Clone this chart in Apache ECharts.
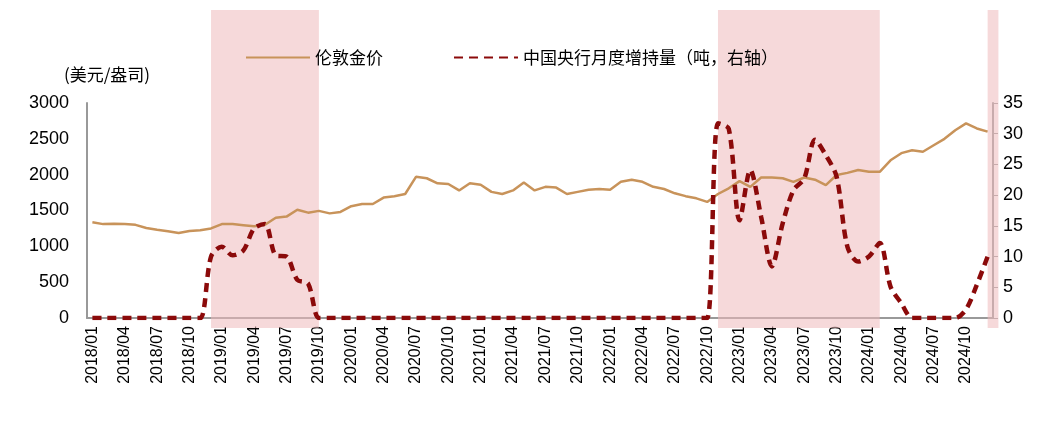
<!DOCTYPE html><html><head><meta charset="utf-8"><script src="https://cdn.jsdelivr.net/npm/echarts@6/dist/echarts.min.js"></script>
<style>body{margin:0}#c{width:1048px;height:435px}</style></head><body><div id="c"></div><script>
const months=[];for(let y=2018;y<=2024;y++)for(let m=1;m<=12;m++)months.push(y+'/'+String(m).padStart(2,'0'));
const gold=[1335,1310,1315,1310,1300,1255,1230,1210,1185,1215,1225,1250,1310,1310,1295,1280,1300,1400,1415,1510,1470,1495,1460,1480,1560,1590,1590,1680,1700,1730,1970,1950,1880,1870,1780,1880,1860,1760,1730,1780,1890,1780,1830,1820,1730,1760,1790,1800,1790,1900,1930,1900,1830,1800,1740,1700,1670,1620,1730,1810,1910,1830,1960,1960,1950,1900,1960,1930,1855,1995,2025,2065,2040,2040,2200,2300,2340,2320,2410,2500,2620,2715,2645,2600];
const pboc=[0,0,0,0,0,0,0,0,0,0,0,10,11.6,10.2,11,14.6,15.3,10.2,10,6.2,5.6,0,0,0,0,0,0,0,0,0,0,0,0,0,0,0,0,0,0,0,0,0,0,0,0,0,0,0,0,0,0,0,0,0,0,0,0,0,31.7,30.8,15.9,24.1,16.5,8.4,15.4,20.8,22.7,29,26.5,23,11.6,9.2,10,12.2,5.1,2.4,0,0,0,0,0,1.4,5.4,10];
const shadeMonths=months.concat(['2025/01']);
const shade=[['2018/12','2019/10'],['2022/11','2024/02'],['2024/12','2025/01']];
const f='"Noto Sans CJK SC",sans-serif';
const c=echarts.init(document.getElementById('c'));
c.setOption({animation:false,
grid:[{left:87,right:55,top:103,bottom:117},{left:87,right:44.2,top:10,bottom:107}],
legend:{top:44,left:240,itemGap:70,itemWidth:64,itemHeight:10,textStyle:{fontFamily:f,fontSize:17,color:'#000'},
 data:[{name:'伦敦金价',itemStyle:{opacity:0}},{name:'中国央行月度增持量（吨，右轴）',itemStyle:{opacity:0}}]},
xAxis:[{type:'category',data:months,boundaryGap:true,axisLine:{lineStyle:{color:'#999',width:2}},
 axisTick:{interval:0,length:5,lineStyle:{color:'#999'}},
 axisLabel:{interval:2,rotate:90,fontFamily:'Arial',fontSize:16,color:'#000',margin:8}},
 {type:'category',gridIndex:1,data:shadeMonths,boundaryGap:true,show:false}],
yAxis:[{type:'value',min:0,max:3000,interval:500,name:'(美元/盎司)',nameLocation:'end',nameGap:20,
 nameTextStyle:{fontFamily:f,fontSize:17,color:'#000',align:'center',padding:[0,0,0,40]},
 axisLine:{show:true,lineStyle:{color:'#999',width:2}},axisTick:{show:false},splitLine:{show:false},
 axisLabel:{fontFamily:'Arial',fontSize:18,color:'#000',margin:18,formatter:v=>String(v)}},
 {type:'value',min:0,max:35,interval:5,axisLine:{show:true,lineStyle:{color:'#999',width:2}},
 axisTick:{show:true,length:5,lineStyle:{color:'#999'}},splitLine:{show:false},
 axisLabel:{fontFamily:'Arial',fontSize:18,color:'#000',margin:10}},
 {type:'value',gridIndex:1,min:0,max:1,show:false}],
series:[{type:'line',xAxisIndex:1,yAxisIndex:2,data:[],z:0,
 markArea:{silent:true,itemStyle:{color:'rgba(238,185,188,0.55)'},data:shade.map(s=>[{xAxis:s[0]},{xAxis:s[1]}])}},
 {name:'伦敦金价',type:'line',data:gold,symbol:'none',lineStyle:{color:'#C8935A',width:2.5},itemStyle:{color:'#C8935A'}},
 {name:'中国央行月度增持量（吨，右轴）',type:'line',yAxisIndex:1,data:pboc,symbol:'none',smooth:0.3,
 lineStyle:{color:'#8B0A0A',width:4.5,type:[9,6]},itemStyle:{color:'#8B0A0A'}}]
});
</script></body></html>
